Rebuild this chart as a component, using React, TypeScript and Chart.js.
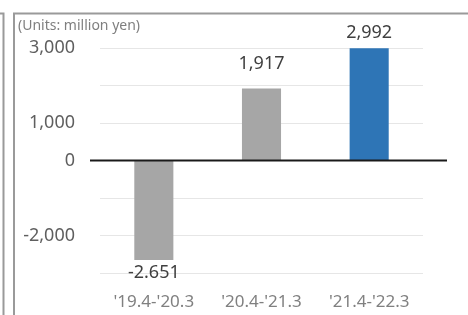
import React, { useEffect, useRef } from "react";
import { Chart, registerables } from "chart.js";

Chart.register(...registerables);

const categories = ["'19.4-'20.3", "'20.4-'21.3", "'21.4-'22.3"];
const netIncome = [-2651, 1917, 2992];
const valueLabels = ["-2.651", "1,917", "2,992"];
const barColors = ["#a6a6a6", "#a6a6a6", "#2e75b6"];
const shownTicks = [3000, 1000, 0, -2000];
const unitsText = "(Units: million yen)";
const titleText = "Consolidated Net Income";

const FONT = "'Noto Sans', sans-serif";
const LABEL_GAPS = [13, 25, 15];

const decorPlugin = {
  id: "decor",
  beforeDraw(chart: any) {
    const ctx = chart.ctx;
    ctx.save();
    ctx.strokeStyle = "#9a9a9a";
    ctx.lineWidth = 2;
    ctx.beginPath();
    ctx.moveTo(0, 13.5);
    ctx.lineTo(3.5, 13.5);
    ctx.lineTo(3.5, 315);
    ctx.moveTo(14, 315);
    ctx.lineTo(14, 13.5);
    ctx.lineTo(468, 13.5);
    ctx.stroke();
    ctx.fillStyle = "#b5d2f4";
    ctx.font = `bold 25px ${FONT}`;
    ctx.textBaseline = "alphabetic";
    ctx.textAlign = "left";
    ctx.fillText(titleText, 20, 0.3);
    ctx.fillStyle = "#7f7f7f";
    ctx.font = `14px ${FONT}`;
    ctx.textBaseline = "middle";
    ctx.fillText(unitsText, 18, 26);
    ctx.restore();
  },
  afterDatasetsDraw(chart: any) {
    const ctx = chart.ctx;
    const y0 = chart.scales.y.getPixelForValue(0);
    ctx.save();
    ctx.strokeStyle = "#1a1a1a";
    ctx.lineWidth = 2;
    ctx.beginPath();
    ctx.moveTo(90, y0);
    ctx.lineTo(447, y0);
    ctx.stroke();
    const meta = chart.getDatasetMeta(0);
    ctx.fillStyle = "#404040";
    ctx.font = `18px ${FONT}`;
    ctx.textAlign = "center";
    ctx.textBaseline = "middle";
    meta.data.forEach((bar: any, i: number) => {
      const v = netIncome[i];
      const y = v >= 0 ? bar.y - LABEL_GAPS[i] : bar.y + LABEL_GAPS[i];
      ctx.fillText(valueLabels[i], bar.x, y);
    });
    ctx.restore();
  },
};

export default function App() {
  const ref = useRef<HTMLCanvasElement>(null);
  useEffect(() => {
    if (!ref.current) return;
    const chart = new Chart(ref.current, {
      type: "bar",
      data: {
        labels: categories,
        datasets: [
          {
            data: netIncome,
            backgroundColor: barColors,
            barPercentage: 0.363,
            categoryPercentage: 1,
          },
        ],
      },
      options: {
        responsive: false,
        animation: false,
        layout: { padding: { top: 48, right: 45, bottom: 0, left: 0 } },
        plugins: { legend: { display: false }, tooltip: { enabled: false } },
        scales: {
          x: {
            grid: { display: false, drawTicks: false },
            border: { display: false },
            ticks: {
              color: "#808080",
              font: { family: FONT, size: 17 },
              padding: 19,
              maxRotation: 0,
            },
            afterFit: (s: any) => {
              s.height = 42;
            },
          },
          y: {
            min: -3000,
            max: 3000,
            grid: { color: "#e6e6e6", lineWidth: 1, drawTicks: false },
            border: { display: false },
            ticks: {
              stepSize: 1000,
              color: "#5f5f5f",
              font: { family: FONT, size: 18 },
              padding: 25,
              callback: (v: any) =>
                shownTicks.includes(Number(v)) ? Number(v).toLocaleString("en-US") : "",
            },
            afterFit: (s: any) => {
              s.width = 100;
            },
          },
        },
      },
      plugins: [decorPlugin],
    });
    return () => chart.destroy();
  }, []);
  return (
    <div style={{ position: "absolute", left: 0, top: 0, width: 468, height: 315, background: "#fff" }}>
      <canvas ref={ref} width={468} height={315} />
    </div>
  );
}
